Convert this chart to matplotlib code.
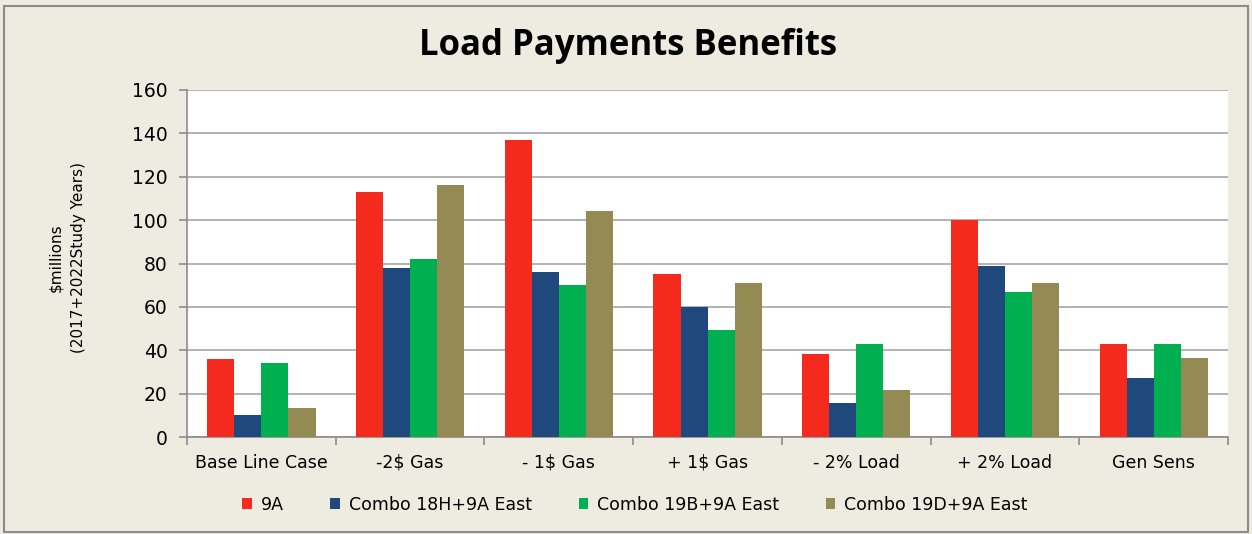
import matplotlib
matplotlib.use("Agg")
import matplotlib.pyplot as plt
import numpy as np
from matplotlib.patches import Rectangle

categories = ["Base Line Case", "-2$ Gas", "- 1$ Gas", "+ 1$ Gas", "- 2% Load", "+ 2% Load", "Gen Sens"]
series_names = ["9A", "Combo 18H+9A East", "Combo 19B+9A East", "Combo 19D+9A East"]
s_9a = [36, 113, 137, 75, 38.5, 100, 43]
s_18h = [10, 78, 76, 60, 15.5, 79, 27]
s_19b = [34, 82, 70, 49.5, 43, 67, 43]
s_19d = [13.5, 116, 104, 71, 21.5, 71, 36.5]
colors = ["#F42A1F", "#1F497D", "#00B050", "#948A54"]
yticks = [0, 20, 40, 60, 80, 100, 120, 140, 160]

bg = "#EEEBE0"
fig = plt.figure(figsize=(12.52, 5.34), dpi=100, facecolor=bg)
fig.patches.append(Rectangle((0.003, 0.003), 0.994, 0.985, transform=fig.transFigure,
                             fill=False, edgecolor="#8C8C8C", lw=1.5))
ax = fig.add_axes([0.1494, 0.1816, 0.8315, 0.6499])
ax.set_facecolor("white")

x = np.arange(len(categories))
w = 0.182
data = [s_9a, s_18h, s_19b, s_19d]
for i, (vals, c, n) in enumerate(zip(data, colors, series_names)):
    ax.bar(x + (i - 1.5) * w, vals, w, color=c, label=n, zorder=3)

ax.set_xlim(-0.5, len(categories) - 0.5)
ax.set_ylim(0, 160)
ax.set_yticks(yticks)
ax.set_yticklabels([str(t) for t in yticks], fontsize=13.5, family="DejaVu Sans")
ax.yaxis.grid(True, color="#A6A6A6", lw=1.2, zorder=0)
ax.set_xticks(x)
ax.set_xticklabels(categories, fontsize=12.5, family="DejaVu Sans")
ax.set_xticks(np.arange(-0.5, len(categories)), minor=True)
ax.tick_params(axis="x", which="major", length=0, pad=12)
ax.tick_params(axis="x", which="minor", length=6, color="#8C8C8C", width=1.2)
ax.tick_params(axis="y", length=6, color="#8C8C8C", width=1.2, pad=8)
for s in ["top", "right"]:
    ax.spines[s].set_visible(False)
for s in ["left", "bottom"]:
    ax.spines[s].set_color("#8C8C8C")
    ax.spines[s].set_linewidth(1.2)

fig.text(0.502, 0.897, "Load Payments Benefits", ha="center", va="baseline",
         fontsize=25, fontweight="bold", family="Open Sans")
fig.text(0.0535, 0.517, "$millions\n(2017+2022Study Years)", ha="center", va="center",
         rotation=90, fontsize=11, family="DejaVu Sans", linespacing=1.65)

leg = fig.legend(loc="center", bbox_to_anchor=(0.507, 0.055), ncol=4, frameon=False,
                 handlelength=0.55, handleheight=0.55, columnspacing=2.7,
                 handletextpad=0.5, prop={"family": "DejaVu Sans", "size": 12.5})
fig.savefig("out.png", dpi=100, facecolor=bg)
